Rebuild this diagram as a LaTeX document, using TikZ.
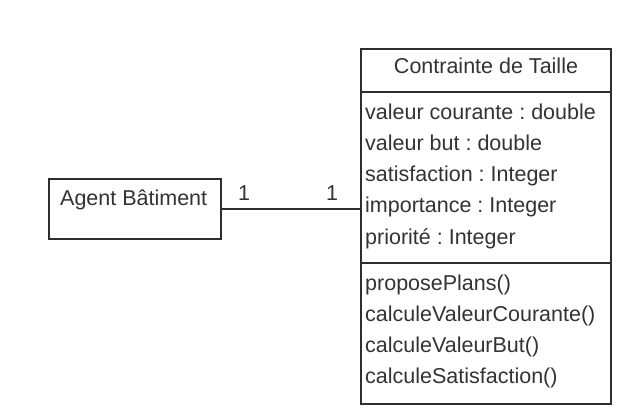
\documentclass[tikz,border=0pt]{standalone}
\usepackage{fontspec}
\setmainfont{Liberation Sans}
\usetikzlibrary{calc,positioning}
\definecolor{umlink} {HTML}{2E2E2E}
\definecolor{umltext}{HTML}{333333}
\newcommand{\umlfont}{\fontsize{21.5}{26}\selectfont\frenchspacing}

\begin{document}
\begin{tikzpicture}[x=1pt, y=-1pt,
    umlbox/.style={draw=umlink, fill=white, line width=1.3pt, inner sep=0pt},
    umlrow/.style={umltext, font=\umlfont, anchor=base west, inner sep=0pt},
    umlmult/.style={umltext, font=\umlfont, anchor=base, inner sep=0pt}]
  \fill[white] (0,0) rectangle (624,418);
  \useasboundingbox (0,0) rectangle (624,418);
  % agent
  \node[umlbox, minimum width=172pt, minimum height=60pt] (agent) at (135,209) {};
  \node[umlrow] (agentname) at (60,205.5) {Agent Bâtiment};
  % class box
  \node[umlbox, minimum width=250pt, minimum height=355pt] (cls) at (486,226.5) {};
  \coordinate (sepA) at (0,92);
  \coordinate (sepB) at (0,263);
  \draw[umlink, line width=1.3pt] (cls.west |- sepA) -- (cls.east |- sepA);
  \draw[umlink, line width=1.3pt] (cls.west |- sepB) -- (cls.east |- sepB);
  \node[umlmult] (clsname) at (486,73.2) {Contrainte de Taille};
  \foreach \txt [count=\i from 0] in {valeur courante : double, valeur but : double,
      satisfaction : Integer, importance : Integer, priorité : Integer}
    {\node[umlrow] (attr\i) at (365,119.2+31.25*\i) {\txt};}
  \foreach \txt [count=\i from 0] in {proposePlans(), calculeValeurCourante(),
      calculeValeurBut(), calculeSatisfaction()}
    {\node[umlrow] (meth\i) at (365,290.2+31.1*\i) {\txt};}
  % association
  \draw[umlink, line width=1.1pt] (agent.east) -- (agent.east -| cls.west);
  \node[umlmult] (multA) at (244,200.5) {1};
  \node[umlmult] (multB) at (332,200.5) {1};
\end{tikzpicture}
\end{document}
